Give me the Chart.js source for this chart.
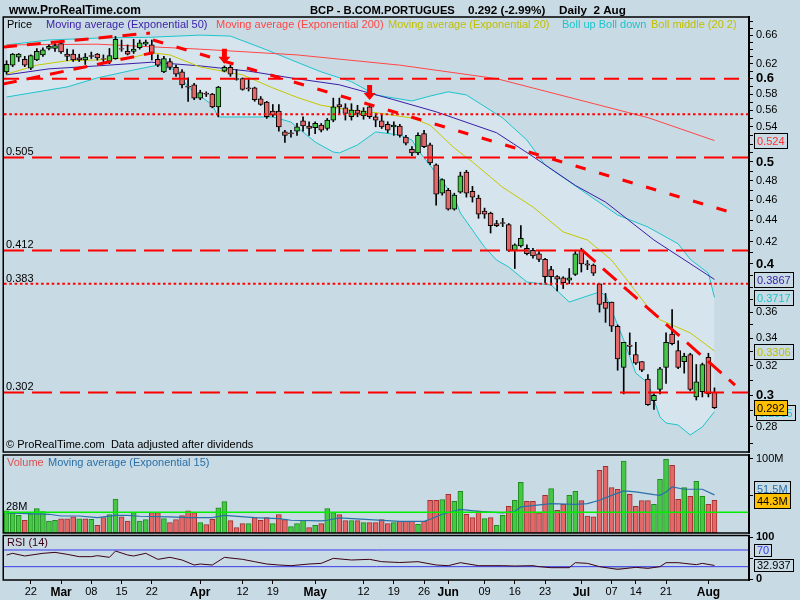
<!DOCTYPE html>
<html><head><meta charset="utf-8">
<script src="https://cdn.jsdelivr.net/npm/chart.js@4.4.0/dist/chart.umd.min.js"></script>
<style>
html,body{margin:0;padding:0;background:#c8dae4;}
#wrap{position:relative;width:800px;height:600px;overflow:hidden;background:#c8dae4;}
canvas{position:absolute;left:0;top:0;}
</style></head><body>
<div id="wrap">
<canvas id="cPrice" width="800" height="600"></canvas>
<canvas id="cVol" width="800" height="600"></canvas>
<canvas id="cRsi" width="800" height="600"></canvas>
</div>
<script>
// ---------------- DATA (daily bars, index 0 = 16 Feb ... 117 = 2 Aug) ----------------
const opens = [.609,.618,.629,.626,.614,.625,.632,.641,.641,.648,
.633,.633,.628,.625,.631,.633,.627,.623,.627,.641,
.637,.637,.642,.647,.646,.626,.609,.623,.615,.609,
.590,.592,.575,.581,.580,.564,.610,.615,.600,.600,
.588,.588,.574,.570,.559,.559,.534,.533,.535,.547,
.541,.539,.542,.538,.548,.567,.563,.552,.560,.553,
.564,.552,.547,.543,.540,.541,.528,.514,.510,.532,
.519,.497,.467,.470,.451,.468,.489,.469,.462,.449,
.447,.437,.438,.436,.412,.416,.414,.412,.409,.404,
.395,.389,.388,.386,.391,.412,.400,.399,.383,.368,
.368,.349,.319,.335,.328,.323,.311,.2966,.304,.319,
.343,.331,.323,.328,.299,.3025,.326,.302];
const highs = [.624,.634,.634,.630,.632,.641,.642,.646,.648,.650,
.640,.639,.633,.634,.636,.634,.632,.641,.658,.653,
.646,.654,.653,.653,.653,.632,.630,.627,.618,.612,
.601,.594,.585,.583,.581,.590,.617,.618,.612,.601,
.600,.589,.577,.571,.567,.567,.536,.536,.544,.552,
.546,.546,.544,.550,.575,.575,.568,.568,.566,.563,
.566,.556,.554,.546,.546,.543,.530,.517,.533,.536,
.521,.498,.482,.472,.467,.489,.491,.474,.465,.452,
.448,.440,.442,.437,.418,.435,.417,.414,.411,.405,
.398,.390,.389,.396,.411,.414,.403,.400,.383,.375,
.368,.350,.337,.344,.337,.323,.314,.301,.319,.344,
.362,.338,.329,.329,.321,.322,.329,.305];
const lows = [.606,.616,.623,.616,.612,.624,.630,.639,.637,.634,
.624,.623,.623,.619,.627,.625,.623,.620,.626,.637,
.632,.634,.640,.645,.625,.616,.608,.612,.603,.588,
.571,.573,.573,.577,.563,.552,.609,.603,.598,.585,
.584,.571,.566,.550,.552,.535,.522,.528,.530,.535,
.530,.532,.534,.536,.546,.556,.548,.548,.552,.549,
.550,.540,.538,.533,.530,.528,.519,.507,.508,.516,
.497,.455,.465,.450,.450,.467,.463,.458,.442,.442,
.428,.434,.434,.411,.396,.415,.408,.405,.402,.384,
.382,.377,.379,.383,.390,.393,.395,.390,.360,.352,
.345,.317,.301,.328,.321,.316,.2935,.291,.301,.308,
.335,.318,.315,.303,.297,.299,.299,.2915];
const closes = [.619,.633,.633,.618,.631,.637,.639,.644,.645,.636,
.630,.625,.625,.629,.630,.628,.626,.631,.654,.640,
.633,.640,.649,.650,.634,.618,.627,.615,.606,.592,
.589,.575,.582,.580,.564,.589,.615,.606,.599,.586,
.587,.573,.567,.552,.554,.540,.530,.532,.540,.541,
.538,.544,.536,.548,.564,.564,.556,.560,.556,.559,
.552,.548,.540,.536,.542,.530,.521,.510,.530,.517,
.499,.466,.481,.451,.465,.485,.467,.463,.446,.446,
.435,.435,.437,.412,.417,.423,.409,.407,.404,.389,
.389,.387,.384,.388,.409,.400,.399,.392,.366,.363,
.349,.325,.337,.334,.322,.317,.294,.300,.318,.337,
.336,.319,.327,.304,.309,.321,.301,.292];

// volume in millions, and up(1)/down(0) day flag
const volumes = [30,27,24,17,26,33,29,16,17,19,
19,22,19,19,18.5,10.4,21,25,46,22,
16,27.5,16,18,27.5,27.5,19.4,14,18,23.5,
30,27.5,14,11.3,18.5,34,42.4,16.7,7.3,12.7,
12.7,20.8,17.2,20.8,12.7,24.8,18,8.6,12.7,17.2,
7.3,10.4,12.7,33,27.5,24.8,16.7,16.7,16.7,14,
14,14,18,12.7,14,15.8,15.8,15.8,11.8,15.8,
44.2,44.2,45.1,52.3,42.8,56.4,25.3,20.8,29.8,19.4,
20.8,10.4,23.9,36.1,44.2,68.5,42.8,42.8,27.1,50.9,
59.9,30.7,38.8,50.9,56.4,43.7,23,21.7,84.7,90.1,
61.3,59.1,97.3,52.3,36.1,43.7,43.7,38.8,72.5,99.6,
91.5,45.5,61.3,49.6,69.8,49.6,38.8,44.3];
const volUp = [1,1,1,0,1,1,1,1,1,0, 0,0,1,0,1,0,0,1,1,0, 0,1,1,1,0,0,1,0,0,0,
0,0,1,0,0,1,1,0,0,0, 1,0,0,0,1,0,0,1,1,1, 0,1,0,1,1,0,0,1,0,1,
0,0,0,0,1,0,0,0,1,0, 0,0,1,0,1,1,0,0,0,1, 0,1,1,0,1,1,0,0,0,0,
1,0,0,1,1,0,0,0,0,0, 0,0,1,0,0,0,0,1,1,1, 0,0,1,0,1,1,0,0];
const volEmaX = [0,7,9,12,15,18,20,22,27,30,34,36,41,45,47,52,53,55,60,65,69,70,72,75,78,82,84,85,90,94,96,98,100,102,104,107,108,109,110,112,115,117];
const volEma  = [27.1,25.3,23,23,20.8,23.9,23.9,22.6,21.7,20.8,20.8,23.9,20.8,19.4,17.2,16.3,17.2,20.3,18.1,15.8,15.8,18.5,25.3,32,29.3,27.1,29.3,35.2,39.7,38.8,39.7,44.2,50.9,56.8,55.5,51.9,50.9,55.5,62.2,59.1,59.1,51.5];
const volLevel = 28;

// moving averages and Bollinger bands (bar index, price)
const ema200X = [0,15,32,48,65,81,94,106,117];
const ema200  = [.646,.647,.640,.632,.618,.600,.574,.551,.524];
const ema50X = [0,7,15,24,32,40,47,55,64,71,81,87,94,99,107,117];
const ema50  = [.605,.613,.617,.622,.617,.610,.601,.592,.573,.558,.533,.506,.475,.458,.4215,.3867];
const ema20X = [0,5,10,15,21,24,27,32,39,44,48,52,57,61,67,70,74,77,82,87,92,96,100,106,108,113,117];
const ema20  = [.606,.618,.624,.625,.629,.635,.632,.6155,.605,.588,.576,.566,.560,.557,.5505,.542,.5155,.500,.473,.4531,.429,.4215,.4034,.364,.354,.344,.3306];
const bollUpX = [0,7,15,24,32,37,43,48,52,57,61,67,70,73,76,82,86,89,95,101,106,111,113,116,117];
const bollUp  = [.646,.653,.6557,.657,.660,.6586,.639,.622,.609,.596,.579,.5714,.5776,.583,.579,.5505,.5246,.4967,.4702,.4452,.4337,.418,.404,.392,.3717];
const bollLowX = [0,4,10,15,21,25,28,30,34,35,39,44,47,51,54,55,58,61,65,67,68,71,74,75,77,79,81,83,86,90,93,95,98,99,100,102,104,106,108,109,111,113,115,117];
const bollLow  = [.5764,.5815,.5892,.601,.6115,.618,.6115,.589,.5664,.5517,.5517,.5517,.5457,.5223,.511,.510,.519,.534,.5304,.5246,.5132,.488,.463,.4472,.4308,.415,.4034,.3973,.3845,.382,.368,.3713,.3762,.3737,.3616,.3387,.315,.3083,.2862,.2824,.2812,.2751,.280,.2895];

// RSI(14)
const rsiX = [0,1,3,6,8,10,12,14,15,17,18,20,21,23,25,27,29,31,32,34,36,39,41,43,45,47,50,52,54,57,60,62,65,68,71,73,75,78,82,84,87,88,90,93,94,96,98,101,104,106,108,109,111,112,114,115,117];
const rsiY = [58,62,55.6,62,64.3,59.6,54,54,56.4,52.4,67.5,58,55.6,62,47.6,52.4,46,34,36.4,34,52.4,47.6,42,36.4,34,32.4,36.4,38,50,46,47.6,42,40,42,34,32.4,39.6,32.4,32.4,31.6,32.4,30,27.6,27.6,39.6,38,30,23.6,28.4,26,30,39.6,39.6,38,34.8,38,32.937];
const rsiLevels = [70, 30];

// horizontal levels, trend lines, arrows
const levelValues = [0.6, 0.555, 0.505, 0.412, 0.383, 0.302];
const levelLabels = ['', '', '0.505', '0.412', '0.383', '0.302'];
const levelKind   = ['dash', 'dot', 'long', 'long', 'dot', 'long'];
const trendX0 = [24.2, -0.6, -0.6, 95.1];
const trendY0 = [0.653, 0.593, 0.643, 0.4124];
const trendX1 = [121.2, 24.2, 23.7, 120.4];
const trendY1 = [0.4452, 0.635, 0.663, 0.3069];
const arrowX = [36, 60];
const arrowTip = [0.620, 0.5726];

// axis ticks
const priceTicks = [0.27,0.28,0.29,0.30,0.31,0.32,0.33,0.34,0.35,0.36,0.37,0.38,0.39,0.40,0.41,0.42,0.43,0.44,0.45,0.46,0.47,0.48,0.49,0.50,0.51,0.52,0.53,0.54,0.55,0.56,0.57,0.58,0.59,0.60,0.61,0.62,0.63,0.64,0.65,0.66,0.67,0.68];
const priceTickLabels = ['0.28','0.3','0.32','0.34','0.36','0.4','0.42','0.44','0.46','0.48','0.5','0.52','0.54','0.56','0.58','0.6','0.62','0.66'];
const boldTickLabels = ['0.3','0.4','0.5','0.6'];
const dayTickIdx = [4,9,14,19,24,32,39,44,51,59,64,69,73,79,84,89,95,100,104,109,116];
const dayTickLabels = ['22','Mar','08','15','22','Apr','12','19','May','12','19','26','Jun','09','16','23','Jul','07','14','21','Aug'];
const monthLabels = ['Mar','Apr','May','Jun','Jul','Aug'];
const volTicks = [50, 100];
const rsiTicks = [0, 50, 100];

// ---------------- STYLE ----------------
const FONT = "'Liberation Sans', Arial, Helvetica, sans-serif";
Chart.defaults.font.family = FONT;
Chart.defaults.color = '#000';
const BG = '#c8dae4', BAND = '#d6e5ed';
const UP = '#46c846', DOWN = '#e46868';
const C_EMA50 = '#3a1ea8', C_EMA200 = '#ff4646', C_EMA20 = '#c8c800', C_BOLL = '#1cc4cc';
const X_MIN = -0.43, X_MAX = 122.71;

const pts = (xs, ys) => xs.map((x, k) => ({x: x, y: ys[k]}));
const idx = closes.map((_, i) => i);
const lineDs = (data, color, order, extra) => Object.assign({type: 'line', data: data, borderColor: color,
  borderWidth: 1, pointRadius: 0, fill: false, tension: 0, order: order}, extra || {});

function box(ctx, x, yc, text, color, bg, h) {
  ctx.save();
  ctx.font = '11px ' + FONT;
  const w = Math.round(ctx.measureText(text).width) + 5;
  const top = Math.round(yc - h / 2) + 0.5;
  ctx.fillStyle = bg; ctx.fillRect(x + 0.5, top, w, h);
  ctx.strokeStyle = '#000'; ctx.lineWidth = 1; ctx.strokeRect(x + 0.5, top, w, h);
  ctx.fillStyle = color; ctx.textBaseline = 'middle'; ctx.textAlign = 'left';
  ctx.fillText(text, x + 3, top + h / 2 + 0.5);
  ctx.restore();
}
const framePlugin = {
  id: 'frame',
  afterDraw(chart) {
    const a = chart.chartArea, ctx = chart.ctx;
    ctx.save(); ctx.strokeStyle = '#000'; ctx.lineWidth = 1.5;
    ctx.strokeRect(a.left - 0.75, a.top, a.right - a.left + 0.75, a.bottom - a.top);
    ctx.restore();
  }
};
const yAxisBase = (extra) => Object.assign({
  position: 'right',
  afterFit: s => { s.width = 51; },
  grid: { drawOnChartArea: false, drawTicks: true, tickLength: 4, color: '#000' },
  border: { display: true, color: '#000', width: 2 }
}, extra);
const xHidden = { type: 'linear', min: X_MIN, max: X_MAX, offset: false, display: false, grid: {offset: false} };
const baseOpts = {
  responsive: false, animation: false, events: [], devicePixelRatio: 1,
  plugins: { legend: { display: false }, tooltip: { enabled: false },
             filler: { drawTime: 'beforeDatasetsDraw', propagate: false } }
};

// ---------------- PRICE PANEL ----------------
const fmt2 = v => String(+(+v).toFixed(2));
const priceDatasets = [
  lineDs(pts(bollUpX, bollUp), C_BOLL, 30),
  lineDs(pts(bollLowX, bollLow), C_BOLL, 29, { fill: '-1', backgroundColor: BAND }),
  lineDs(pts(ema200X, ema200), C_EMA200, 28),
  lineDs(pts(ema50X, ema50), C_EMA50, 27),
  lineDs(pts(ema20X, ema20), C_EMA20, 26),
  { type: 'bar', data: idx.map(i => ({x: i, y: [lows[i], highs[i]]})), backgroundColor: '#000',
    borderWidth: 0, barThickness: 1, grouped: false, order: 20 },
  { type: 'bar', data: idx.map(i => ({x: i, y: [opens[i], closes[i]]})),
    backgroundColor: idx.map(i => closes[i] >= opens[i] ? UP : DOWN),
    borderColor: '#000', borderWidth: 1, borderSkipped: false, barThickness: 5, grouped: false, order: 19 }
];
levelValues.forEach((v, k) => {
  const dash = levelKind[k] === 'dot' ? [2.6, 2.7] : (levelKind[k] === 'dash' ? [15, 9] : [20, 8]);
  priceDatasets.push(lineDs([{x: X_MIN, y: v}, {x: X_MAX, y: v}], '#ff0000', 10,
    { borderWidth: 2, borderDash: dash, borderCapStyle: 'butt' }));
});
trendX0.forEach((x0, k) => {
  const dash = k === 0 ? [10.5, 14] : (k === 3 ? [18, 10] : [14, 10]);
  priceDatasets.push(lineDs([{x: x0, y: trendY0[k]}, {x: trendX1[k], y: trendY1[k]}], '#ff0000', 5,
    { borderWidth: 3, borderDash: dash, borderCapStyle: 'butt' }));
});

const priceText = {
  id: 'priceText',
  afterDraw(chart) {
    const ctx = chart.ctx, ys = chart.scales.y, xs = chart.scales.x;
    ctx.save();
    // arrows
    ctx.fillStyle = '#ff0000';
    arrowX.forEach((ax, k) => {
      const x = xs.getPixelForValue(ax), y = ys.getPixelForValue(arrowTip[k]);
      ctx.beginPath();
      ctx.moveTo(x, y); ctx.lineTo(x - 6, y - 7); ctx.lineTo(x - 2.5, y - 7); ctx.lineTo(x - 2.5, y - 15);
      ctx.lineTo(x + 2.5, y - 15); ctx.lineTo(x + 2.5, y - 7); ctx.lineTo(x + 6, y - 7); ctx.closePath();
      ctx.fill();
    });
    // titles
    ctx.textBaseline = 'alphabetic'; ctx.textAlign = 'left';
    ctx.fillStyle = '#000';
    ctx.font = 'bold 12px ' + FONT;
    ctx.fillText('www.ProRealTime.com', 9, 14);
    ctx.font = 'bold 11.2px ' + FONT;
    ctx.fillText('BCP - B.COM.PORTUGUES', 310, 14);
    const last = closes[closes.length - 1], prev = closes[closes.length - 2];
    ctx.font = 'bold 11.7px ' + FONT;
    ctx.fillText(last + ' (' + ((last / prev - 1) * 100).toFixed(2) + '%)', 468, 14);
    ctx.fillText('Daily  2 Aug', 559, 14);
    // legend
    ctx.font = '11px ' + FONT;
    [['Price', '#000', 7], ['Moving average (Exponential 50)', C_EMA50, 46],
     ['Moving average (Exponential 200)', C_EMA200, 216], ['Moving average (Exponential 20)', '#c0c000', 388],
     ['Boll up Boll down', C_BOLL, 562], ['Boll middle (20 2)', '#c0c000', 651]]
      .forEach(t => { ctx.fillStyle = t[1]; ctx.fillText(t[0], t[2], 28); });
    // level labels
    ctx.fillStyle = '#000';
    levelValues.forEach((v, k) => {
      if (levelLabels[k]) ctx.fillText(levelLabels[k], 6, ys.getPixelForValue(v) - 2);
    });
    ctx.fillText('\u00A9 ProRealTime.com  Data adjusted after dividends', 6, 448);
    ctx.restore();
    // value boxes
    box(ctx, 754, ys.getPixelForValue(ema200[ema200.length - 1]), String(ema200[ema200.length - 1]), '#ff3030', BG, 15);
    box(ctx, 754, ys.getPixelForValue(ema50[ema50.length - 1]), String(ema50[ema50.length - 1]), C_EMA50, BG, 15);
    box(ctx, 754, ys.getPixelForValue(bollUp[bollUp.length - 1]), String(bollUp[bollUp.length - 1]), C_BOLL, BG, 15);
    box(ctx, 754, ys.getPixelForValue(ema20[ema20.length - 1]), String(ema20[ema20.length - 1]), '#c0c000', BG, 15);
    box(ctx, 756, ys.getPixelForValue(bollLow[bollLow.length - 1]) + 1, String(bollLow[bollLow.length - 1]), C_BOLL, BG, 15);
    box(ctx, 754, ys.getPixelForValue(last), String(last), '#000', '#ffc000', 15);
  }
};

new Chart(document.getElementById('cPrice'), {
  type: 'bar',
  data: { datasets: priceDatasets },
  options: Object.assign({}, baseOpts, {
    layout: { padding: { left: 4, top: 17, right: 0, bottom: 148 } },
    scales: {
      x: xHidden,
      y: yAxisBase({
        type: 'logarithmic', min: 0.26506, max: 0.68668,
        afterBuildTicks: s => { s.ticks = priceTicks.map(v => ({value: v})); },
        ticks: {
          autoSkip: false, padding: 3, color: '#000',
          callback: v => priceTickLabels.includes(fmt2(v)) ? fmt2(v) : '',
          font: c => (c.tick && boldTickLabels.includes(fmt2(c.tick.value)))
            ? { size: 13, weight: 'bold', family: FONT } : { size: 11, family: FONT }
        }
      })
    }
  }),
  plugins: [framePlugin, priceText]
});

// ---------------- VOLUME PANEL ----------------
const volText = {
  id: 'volText',
  afterDraw(chart) {
    const ctx = chart.ctx, ys = chart.scales.y;
    ctx.save();
    ctx.font = '11px ' + FONT; ctx.textBaseline = 'alphabetic'; ctx.textAlign = 'left';
    ctx.fillStyle = '#e05050'; ctx.fillText('Volume', 7, 466);
    ctx.fillStyle = '#2a70a8'; ctx.fillText('Moving average (Exponential 15)', 48, 466);
    ctx.fillStyle = '#000'; ctx.fillText(volLevel + 'M', 6, ys.getPixelForValue(volLevel) - 2);
    ctx.restore();
    box(ctx, 754, ys.getPixelForValue(volEma[volEma.length - 1]) - 6, volEma[volEma.length - 1] + 'M', '#2a70a8', BG, 15);
    box(ctx, 754, ys.getPixelForValue(volumes[volumes.length - 1]), volumes[volumes.length - 1] + 'M', '#000', '#ffc000', 15);
  }
};
new Chart(document.getElementById('cVol'), {
  type: 'bar',
  data: { datasets: [
    lineDs([{x: X_MIN, y: volLevel}, {x: X_MAX, y: volLevel}], '#00ee00', 1, { borderWidth: 1.5 }),
    lineDs(pts(volEmaX, volEma), '#2a70a8', 2, { borderWidth: 1.2 }),
    { type: 'bar', data: idx.map(i => ({x: i, y: volumes[i]})),
      backgroundColor: idx.map(i => volUp[i] ? UP : DOWN),
      borderColor: idx.map(i => volUp[i] ? '#1e8c1e' : '#a03030'),
      borderWidth: 1, borderSkipped: false, barThickness: 5, grouped: false, order: 5 }
  ] },
  options: Object.assign({}, baseOpts, {
    layout: { padding: { left: 4, top: 455, right: 0, bottom: 67 } },
    scales: {
      x: xHidden,
      y: yAxisBase({
        type: 'linear', min: 0, max: 105.4,
        afterBuildTicks: s => { s.ticks = volTicks.map(v => ({value: v})); },
        ticks: { autoSkip: false, padding: 3, color: '#000', font: { size: 11 },
                 callback: v => v === 100 ? '100M' : '' }
      })
    }
  }),
  plugins: [framePlugin, volText]
});

// ---------------- RSI PANEL ----------------
const rsiText = {
  id: 'rsiText',
  afterDraw(chart) {
    const ctx = chart.ctx, ys = chart.scales.y;
    ctx.save();
    ctx.font = '11px ' + FONT; ctx.textBaseline = 'alphabetic'; ctx.textAlign = 'left';
    ctx.fillStyle = '#3c0014'; ctx.fillText('RSI (14)', 7, 546);
    ctx.restore();
    box(ctx, 754, ys.getPixelForValue(rsiLevels[0]), String(rsiLevels[0]), '#3a3aee', BG, 12);
    box(ctx, 754, ys.getPixelForValue(rsiY[rsiY.length - 1]), String(rsiY[rsiY.length - 1]), '#000', BG, 12);
  }
};
new Chart(document.getElementById('cRsi'), {
  type: 'line',
  data: { datasets: [
    lineDs([{x: X_MIN, y: rsiLevels[0]}, {x: X_MAX, y: rsiLevels[0]}], '#3a3aee', 3),
    lineDs([{x: X_MIN, y: rsiLevels[1]}, {x: X_MAX, y: rsiLevels[1]}], '#3a3aee', 2),
    lineDs(pts(rsiX, rsiY), '#3c0014', 1, { fill: { target: { value: 30 }, above: 'rgba(0,0,0,0)', below: '#9fb2b4' } })
  ] },
  options: Object.assign({}, baseOpts, {
    layout: { padding: { left: 4, top: 535.5, right: 0, bottom: 0 } },
    scales: {
      x: {
        type: 'linear', min: X_MIN, max: X_MAX, offset: false,
        afterFit: s => { s.height = 20; },
        afterBuildTicks: s => { s.ticks = dayTickIdx.map(v => ({value: v})); },
        ticks: {
          autoSkip: false, maxRotation: 0, minRotation: 0, padding: 1, color: '#000',
          callback: v => dayTickLabels[dayTickIdx.indexOf(v)],
          font: c => (c.tick && monthLabels.includes(dayTickLabels[dayTickIdx.indexOf(c.tick.value)]))
            ? { size: 12, weight: 'bold', family: FONT } : { size: 11, family: FONT }
        },
        grid: { drawOnChartArea: false, drawTicks: true, tickLength: 4, color: '#000', offset: false },
        border: { display: false }
      },
      y: yAxisBase({
        type: 'linear', min: -1.9, max: 104.7,
        afterBuildTicks: s => { s.ticks = rsiTicks.map(v => ({value: v})); },
        ticks: { autoSkip: false, padding: 3, color: '#000', font: { size: 11, weight: 'bold' },
                 callback: v => (v === 0 || v === 100) ? String(v) : '' }
      })
    }
  }),
  plugins: [framePlugin, rsiText]
});
</script>
</body></html>
